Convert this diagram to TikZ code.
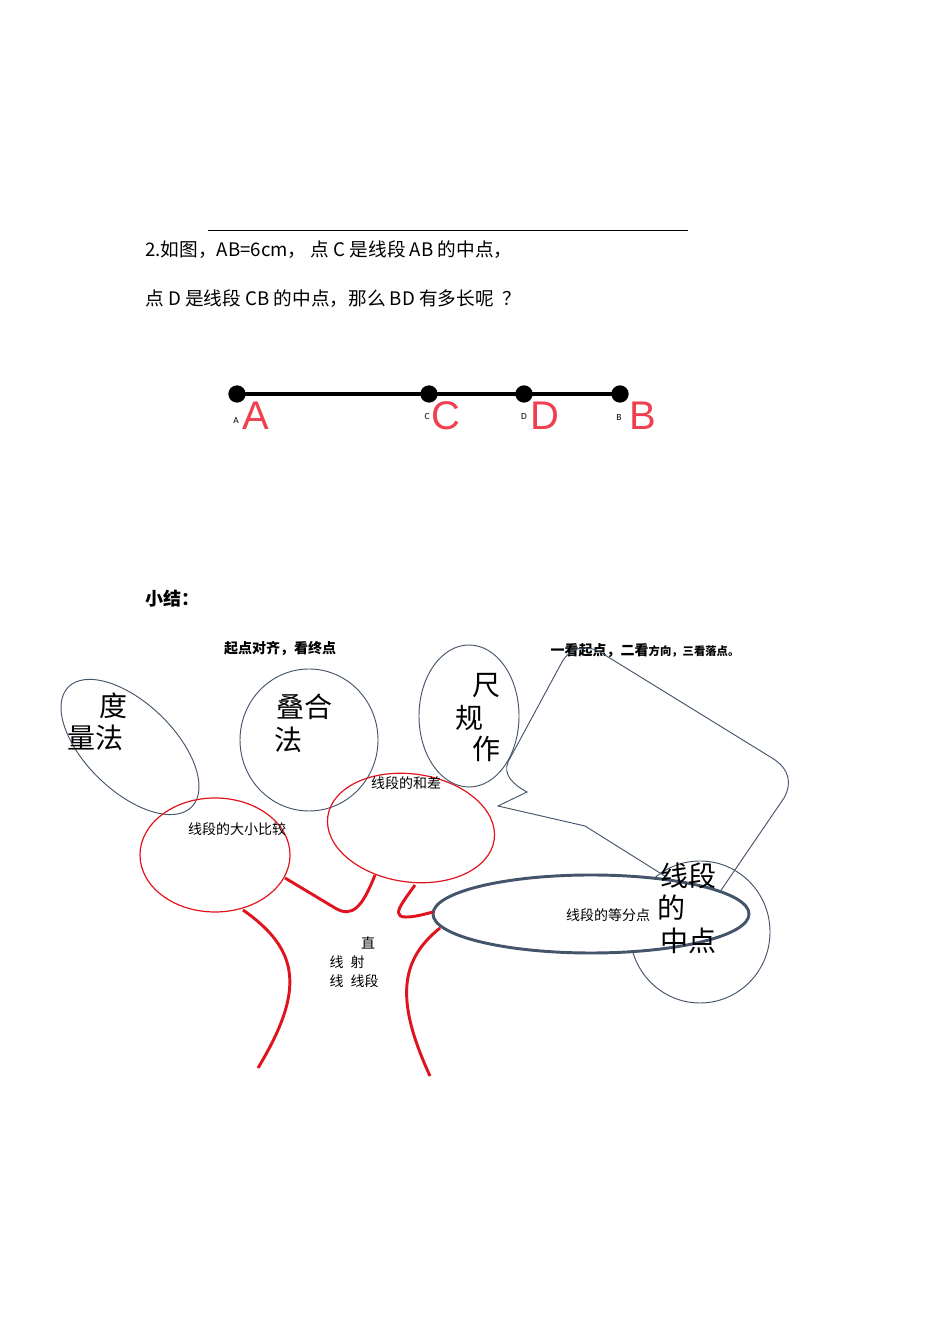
\documentclass[tikz,border=0pt]{standalone}
\usepackage{fontspec}
\setmainfont{Carlito}
\newfontfamily\cjk{Noto Sans CJK SC}
\definecolor{gl}{HTML}{44546A}
\definecolor{rl}{HTML}{E0141E}
\definecolor{bigred}{HTML}{F0404F}
\begin{document}
\begin{tikzpicture}[x=0.75pt,y=0.75pt,
  thinell/.style={draw=gl,line width=0.7pt},
  redell/.style={draw=rl,line width=0.9pt},
  trunk/.style={draw=rl,line width=2.2pt},
  small/.style={font=\cjk\fontsize{10.5}{12}\selectfont,inner sep=0pt},
  big/.style={font=\cjk\fontsize{21}{24}\selectfont,inner sep=0pt},
  body/.style={font=\cjk\fontsize{14}{16}\selectfont,inner sep=0pt,anchor=west},
  dotn/.style={circle,fill=black,minimum size=13pt,inner sep=0pt},
  tiny/.style={font=\fontsize{7}{8}\selectfont\rmfamily,inner sep=0pt},
  letter/.style={font=\fontspec{Liberation Sans}\fontsize{30}{32}\selectfont,text=bigred,inner sep=0pt}]
\useasboundingbox[fill=white] (0,0) rectangle (950,1344);
\coordinate (tl1) at (208,1114); \coordinate (tl2) at (688,1114);
\draw[line width=0.6pt] (tl1) -- (tl2);
\node[body] (q1) at (145,1094) {2.如图，AB=6cm，\ 点 C 是线段 AB 的中点，};
\node[body] (q2) at (145,1045) {点 D 是线段 CB 的中点，那么 BD 有多长呢\ \ ？};
% segment
\node[dotn] (pA) at (237,950) {};
\node[dotn] (pC) at (429,950) {};
\node[dotn] (pD) at (524,950) {};
\node[dotn] (pB) at (620,950) {};
\draw[line width=3pt] (pA.center) -- (pB.center);
\node[tiny] (sA) at (236,923) {A};
\node[tiny] (sC) at (427,927) {C};
\node[tiny] (sD) at (524,927) {D};
\node[tiny] (sB) at (619,926) {B};
\node[letter] (lA) at (256,928) {A};
\node[letter] (lC) at (446,928) {C};
\node[letter] (lD) at (545,928) {D};
\node[letter] (lB) at (643,928) {B};
\node[body,font=\cjk\bfseries\fontsize{13.5}{16}\selectfont] (sum) at (145,745) {小结：};
\node[small,font=\cjk\bfseries\fontsize{10.5}{12}\selectfont] (t1) at (280,695) {起点对齐，看终点};
\node[small,font=\cjk\bfseries\fontsize{10.5}{12}\selectfont] (t2) at (645,693) {一看起点，二看{\fontsize{8.5}{10}\selectfont 方向，三看落点。}};
% thin ellipses
\draw[thinell,rotate around={-44:(130,597)}] (130,597) ellipse (86 and 44);
\node[big] (d1) at (113,638) {度};
\node[big] (d2) at (95,606) {量法};
\draw[thinell] (309,604) ellipse (69 and 71);
\node[big] (h1) at (304,637) {叠合};
\node[big] (h2) at (288,604) {法};
\draw[thinell] (469,628) ellipse (50 and 71);
\node[big] (c1) at (486,658) {尺};
\node[big] (c2) at (469,626) {规};
\node[big] (c3) at (486,595) {作};
% callout
\draw[thinell] (711,439) -- (585,518) -- (498,538) -- (527,552) .. controls (512,560) and (503,570) .. (508,582) -- (562,682) .. controls (570,696) and (585,700) .. (600,692) -- (772,586) .. controls (790,575) and (792,560) .. (784,546) -- cycle;
% midpoint circle
\draw[thinell] (700,412) ellipse (70 and 71);
% red ellipses
\draw[redell] (215,489) ellipse (75 and 57);
\draw[redell,rotate around={-8:(411,516)}] (411,516) ellipse (84 and 54);
\node[small] (r1) at (237,515) {线段的大小比较};
\node[small] (r2) at (406,561) {线段的和差};
% big ellipse
\draw[draw=gl,line width=2.2pt,fill=white] (591,430) ellipse (158 and 39);
\node[small] (e1) at (608,429) {线段的等分点};
\node[big] (m1) at (688,468) {线段};
\node[big] (m2) at (671,436) {的};
\node[big] (m3) at (688,403) {中点};
% red branches
\draw[trunk] (285,466) -- (335,436) .. controls (352,426) and (362,436) .. (375,469);
\draw[trunk] (415,459) .. controls (398,435) and (382,418) .. (433,432);
\draw[trunk] (243,434) .. controls (300,394) and (305,354) .. (258,276);
\draw[trunk] (440,416) .. controls (400,384) and (395,344) .. (430,268);
\node[small] (w1) at (368,401) {直};
\node[small] (w2) at (347,382) {线\enspace 射};
\node[small] (w3) at (354,363) {线\enspace 线段};
\end{tikzpicture}
\end{document}
